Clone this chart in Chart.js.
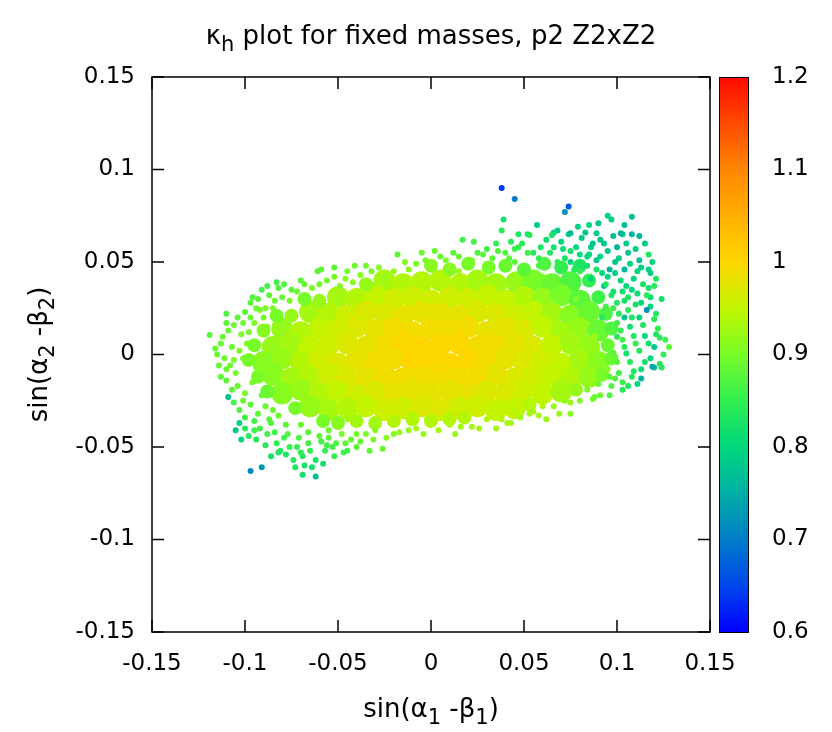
<!DOCTYPE html>
<html>
<head>
<meta charset="utf-8">
<title>kappa_h plot for fixed masses</title>
<script src="https://cdn.jsdelivr.net/npm/chart.js@4.4.1/dist/chart.umd.min.js"></script>
<style>
  html, body { margin: 0; padding: 0; background: #fff; }
  #wrap { width: 832px; height: 732px; }
</style>
</head>
<body>
<div id="wrap"><canvas id="kappaChart" width="832" height="732"></canvas></div>
<script>
// kappa_h scan for fixed masses, p2 Z2xZ2
// each point: [sin(a1 - b1), sin(a2 - b2), kappa_h]

const xTicks = [-0.15, -0.1, -0.05, 0, 0.05, 0.1, 0.15];
const yTicks = [-0.15, -0.1, -0.05, 0, 0.05, 0.1, 0.15];
const cbTicks = [0.6, 0.7, 0.8, 0.9, 1.0, 1.1, 1.2];

// dense middle of the cloud (upper rows)
const coreUpper = [
  [-.025,.040,.93],[-.015,.038,.94],[-.005,.039,.94],[.005,.040,.94],
  [.016,.038,.94],[.025,.040,.93],[.035,.038,.93],[.046,.039,.92],[.055,.040,.90],
  [.065,.038,.89],[.075,.039,.87],
  [-.050,.031,.93],[-.040,.030,.94],[-.030,.032,.95],
  [-.020,.030,.96],[-.010,.031,.96],[.000,.029,.96],[.010,.031,.96],[.020,.030,.96],
  [.030,.032,.95],[.040,.029,.95],[.050,.031,.94],[.060,.030,.92],[.070,.032,.90],
  [.080,.029,.88]
];

// dense middle of the cloud (central rows)
const coreMiddle = [
  [-.065,.023,.93],[-.055,.022,.94],[-.045,.021,.96],
  [-.035,.023,.97],[-.025,.022,.97],[-.015,.021,.98],[-.005,.023,.98],[.005,.022,.98],
  [.015,.021,.98],[.025,.023,.97],[.035,.022,.97],[.045,.021,.96],[.055,.023,.95],
  [.065,.022,.93],[.075,.021,.91],[.085,.023,.89],
  [-.080,.014,.92],[-.070,.012,.94],[-.060,.014,.95],[-.050,.013,.96],
  [-.040,.015,.97],[-.030,.013,.98],[-.020,.014,.99],[-.010,.012,.99],[.000,.014,.99],
  [.010,.013,.99],[.020,.015,.99],[.030,.012,.98],[.040,.014,.98],[.050,.013,.97],
  [.060,.015,.95],[.070,.012,.93],[.080,.014,.92],[.090,.013,.89],
  [-.085,.004,.92],[-.075,.006,.93],[-.065,.004,.95],[-.055,.005,.96],
  [-.045,.006,.97],[-.035,.004,.98],[-.025,.005,.99],[-.015,.006,1.0],[-.005,.004,1.0],
  [.005,.005,1.0],[.015,.006,1.0],[.025,.004,.99],[.035,.005,.99],[.045,.006,.98],
  [.055,.004,.97],[.065,.005,.95],[.075,.006,.93],[.085,.004,.92],
  [-.090,-.004,.91],[-.080,-.002,.92],[-.070,-.004,.94],[-.060,-.003,.96],
  [-.050,-.005,.97],[-.040,-.003,.98],[-.030,-.004,.99],[-.020,-.002,.99],[-.010,-.004,1.0],
  [.000,-.003,1.0],[.010,-.005,1.0],[.020,-.003,1.0],[.030,-.004,.99],[.040,-.002,.98],
  [.050,-.004,.97],[.060,-.003,.96],[.070,-.005,.95],[.080,-.003,.93],[.090,-.004,.91]
];

// dense middle of the cloud (lower rows)
const coreLower = [
  [-.085,-.011,.91],[-.075,-.013,.93],[-.065,-.012,.94],[-.055,-.011,.96],
  [-.045,-.013,.97],[-.035,-.012,.98],[-.025,-.011,.99],[-.015,-.013,.99],[-.005,-.012,.99],
  [.005,-.011,.99],[.015,-.013,.99],[.025,-.012,.99],[.035,-.011,.98],[.045,-.013,.97],
  [.055,-.012,.96],[.065,-.011,.95],[.075,-.013,.94],[.085,-.012,.92],
  [-.080,-.021,.91],[-.070,-.019,.92],[-.060,-.021,.94],[-.050,-.020,.95],
  [-.040,-.022,.96],[-.030,-.020,.97],[-.020,-.021,.98],[-.010,-.019,.98],[.000,-.021,.98],
  [.010,-.020,.98],[.020,-.022,.98],[.030,-.020,.97],[.040,-.021,.97],[.050,-.019,.96],
  [.060,-.021,.95],[.070,-.020,.93],
  [-.065,-.028,.92],[-.055,-.030,.93],[-.045,-.029,.94],[-.035,-.028,.95],
  [-.025,-.030,.96],[-.015,-.029,.96],[-.005,-.028,.97],[.005,-.030,.97],[.015,-.029,.96],
  [.025,-.028,.96],[.035,-.030,.95],[.045,-.029,.95]
];

// rim of the dense part (row ends, top and bottom rows)
const coreRim = [
  [.000,.048,.91],[.010,.046,.91],[.020,.049,.90],[.031,.047,.90],[.040,.048,.89],
  [.050,.046,.88],[.061,.049,.87],[.070,.047,.85],[.080,.048,.83],
  [-.035,.038,.92],[.085,.040,.85],[-.068,.030,.90],[-.060,.029,.92],[.090,.031,.86],
  [-.083,.021,.90],[-.075,.021,.92],[.094,.022,.87],[-.090,.013,.91],[.097,.014,.87],
  [-.095,.005,.90],[.095,.005,.89],[-.098,-.003,.90],[.097,-.002,.89],
  [-.093,-.012,.90],[.092,-.011,.90],[-.088,-.020,.89],[.078,-.019,.92],
  [-.073,-.029,.90],[.053,-.027,.94],
  [-.058,-.036,.90],[-.050,-.037,.91],[-.040,-.036,.93],[-.030,-.037,.93],[-.020,-.036,.94],
  [-.010,-.035,.94],[.000,-.036,.94],[.010,-.035,.94],[.018,-.034,.94]
];

// scattered points inside the cloud
const innerPoints = [
  [-.065,.012,.94],[-.050,-.008,.96],[-.038,.020,.96],[-.020,-.025,.97],[-.005,.030,.96],
  [.012,-.018,.98],[.028,.010,.99],[.040,-.010,.98],[.055,.020,.95],[.068,-.005,.95],
  [.078,.030,.90],[.088,.010,.92],[.060,.042,.90],[.045,.050,.88],[-.080,-.010,.92],
  [-.088,.015,.91],[-.072,-.030,.90],[-.045,-.035,.93],[-.030,.038,.93],[.015,.045,.92],
  [.035,.030,.95],[.020,-.030,.96],[.070,-.020,.93],[.095,-.008,.91],[.098,.025,.86],
  [.080,.045,.85],[-.060,.028,.92],[-.015,.008,.99],[.005,-.008,1.0],[-.040,-.020,.96],
  [.086,.041,.80],[.092,.020,.84],[.075,.050,.80]
];

// band of points just outside the dense part
const ringPoints = [
  [-.060,.038,.90],[-.052,.042,.90],[-.045,.045,.90],[-.038,.043,.91],[-.028,.047,.91],
  [-.020,.045,.92],[-.014,.050,.91],[-.005,.055,.89],[.002,.056,.89],[.008,.051,.90],
  [.015,.053,.89],[.022,.051,.90],[.028,.054,.88],[.036,.056,.87],[.042,.052,.88],
  [.052,.055,.86],[.058,.048,.87],[.068,.050,.85],[.077,.046,.84],[.084,.048,.82],
  [-.110,.017,.88],[-.114,-.006,.89],[-.107,-.019,.88],[-.101,-.025,.89],[-.096,-.015,.90],
  [-.103,.002,.90],[-.101,.017,.89],[-.092,.024,.90],[-.096,.031,.87],[-.089,-.028,.89],
  [-.087,-.035,.88],[-.082,-.033,.89],[-.110,.022,.87],[-.106,-.003,.90],
  [-.070,-.038,.89],[-.066,-.042,.88],[-.055,-.045,.88],[-.048,-.043,.90],[-.030,-.041,.91],
  [-.020,-.043,.91],[-.012,-.041,.92],[-.004,-.043,.92],[.004,-.041,.93],[.013,-.043,.92],
  [.026,-.040,.93],[.038,-.035,.94],[.046,-.031,.94],[.058,-.033,.93],[.066,-.028,.92],
  [.072,-.025,.92],[.084,-.019,.90],[.090,-.016,.89],
  [.100,-.004,.88],[.103,.008,.86],[.100,.017,.86],[.098,.001,.88],[.096,.012,.88],
  [.094,.026,.86],[.097,.032,.83],[.095,.042,.80],[.091,.053,.80],[.104,.029,.82],
  [.102,.013,.85],[.099,-.013,.87],[.108,-.012,.84],[.105,.037,.80]
];

// extra fringe points on the right, upper-left and lower-left
const fillPoints = [
  [.101,.052,.79],[.106,.055,.77],[.113,.047,.79],[.119,.050,.80],[.121,.041,.83],
  [.117,.036,.82],[.111,.033,.81],[.103,.034,.81],[.099,.044,.79],[.110,.027,.82],
  [.118,.026,.80],[.121,.022,.83],[.114,.016,.83],[.108,.020,.83],[.101,.022,.84],
  [.117,.006,.82],[.121,.011,.83],[.126,.008,.86],[.125,.000,.85],[.113,-.008,.81],
  [.106,-.017,.83],[.096,-.012,.88],[.093,.060,.78],[.098,.064,.77],[.105,.060,.78],
  [.112,.064,.76],[.086,.058,.79],[.090,.071,.78],[.104,.070,.77],[.118,.031,.81],
  [-.085,.025,.90],[-.080,.031,.89],[-.075,.035,.88],[-.070,.040,.88],[-.064,.036,.90],
  [-.090,.020,.90],[-.094,.025,.89],[-.083,.039,.86],[-.052,.047,.88],[-.049,.037,.91],
  [-.042,.039,.91],
  [-.100,-.040,.84],[-.094,-.046,.84],[-.089,-.049,.84],[-.084,-.042,.86],[-.078,-.054,.83],
  [-.072,-.050,.85],[-.068,-.060,.82],[-.064,-.061,.82],[-.056,-.049,.86],[-.043,-.046,.89],
  [-.086,-.055,.82],[-.102,-.046,.80]
];

// left fringe
const edgeLeft = [
  [-.119,.0105,.88],[-.116,.0033,.89],[-.115,.000,.89],[-.112,.0096,.89],[-.111,-.002,.89],
  [-.109,.013,.89],[-.106,.016,.89],[-.113,-.012,.88],[-.110,-.014,.88],[-.109,-.023,.77],
  [-.105,-.010,.90],[-.104,-.017,.89],[-.100,-.021,.90],[-.103,-.030,.87],[-.103,-.037,.80],
  [-.105,-.041,.78],[-.098,-.044,.84],[-.095,-.041,.86],[-.092,-.040,.86],[-.088,-.043,.86],
  [-.101,-.002,.90],[-.099,.006,.90],[-.097,.020,.89],[-.097,.028,.88],[-.095,.017,.90],
  [-.091,.035,.86],[-.087,.032,.88],[-.082,.036,.87],[-.079,.038,.87],[-.084,.029,.89],
  [-.094,-.007,.91],[-.102,.011,.90],[-.107,.004,.89],[-.097,-.027,.88],[-.093,-.032,.88],
  [-.108,-.006,.89],[-.100,.023,.88],[-.089,.025,.90],[-.083,-.048,.85],[-.081,-.052,.84],
  [-.082,-.053,.83],[-.077,-.043,.87],[-.076,-.050,.85],[-.097,-.063,.71],[-.091,-.061,.73],
  [-.086,-.037,.87],[-.079,-.045,.86],
  [-.113,.006,.89],[-.110,-.008,.89],[-.106,-.026,.86],[-.100,-.034,.86],[-.098,.012,.90],
  [-.104,.020,.88],[-.093,.030,.88],[-.088,.037,.86],[-.085,-.030,.89],[-.091,-.022,.89],
  [-.095,-.036,.86],[-.078,-.038,.88]
];

// lower fringe
const edgeBottom = [
  [-.073,-.061,.83],[-.070,-.053,.85],[-.069,-.065,.82],[-.069,-.055,.84],[-.062,-.066,.77],
  [-.062,-.057,.83],[-.065,-.052,.85],[-.059,-.047,.86],[-.057,-.052,.85],[-.053,-.050,.86],
  [-.051,-.048,.87],[-.047,-.053,.86],[-.045,-.052,.86],[-.046,-.048,.88],[-.060,-.044,.88],
  [-.040,-.043,.90],[-.035,-.043,.90],[-.031,-.046,.90],[-.026,-.051,.89],[-.017,-.042,.92],
  [-.011,-.035,.94],[-.002,-.035,.94],[.005,-.034,.95],[.016,-.039,.93],[.022,-.039,.93],
  [.030,-.035,.94],[.041,-.037,.93],[.043,-.037,.93],[.048,-.034,.93],[.053,-.032,.93],
  [.055,-.031,.93],[.060,-.028,.94],[.062,-.035,.92],[.069,-.032,.92],[.075,-.032,.91],
  [.075,-.026,.92],[.080,-.025,.91],[.087,-.024,.90],[.088,-.023,.89],[.091,-.022,.89],
  [.096,-.022,.87],[.097,-.017,.87],[.103,-.019,.84],[.103,-.015,.86],[-.024,-.045,.91],
  [-.008,-.040,.93],[.010,-.038,.94],[.035,-.040,.93],[-.038,-.047,.89],[-.055,-.041,.89],
  [-.071,-.045,.87],[-.066,-.048,.86],[-.074,-.057,.84],[-.058,-.059,.82],[-.052,-.055,.85],
  [-.040,-.050,.88],[-.033,-.052,.88]
];

// right fringe (greener, mixed with teal)
const edgeRight = [
  [.128,.004,.88],[.123,.009,.84],[.122,.014,.85],[.120,.019,.84],[.120,.004,.78],
  [.116,.024,.72],[.124,.030,.82],[.120,.037,.84],[.116,.032,.84],[.117,.046,.80],
  [.117,.054,.83],[.111,.045,.80],[.107,.049,.80],[.112,.051,.77],[.118,.044,.78],
  [.109,.041,.80],[.108,.065,.75],[.103,.065,.78],[.102,.0655,.76],[.108,.0745,.77],
  [.113,-.013,.76],[.120,-.007,.78],[.124,-.007,.84],[.123,-.005,.84],[.119,-.0066,.74],
  [.109,-.009,.83],[.105,.0006,.82],[.100,.0096,.84],[.107,.015,.82],[.104,.020,.78],
  [.113,.028,.80],[.110,.006,.85],[.115,.010,.80],[.112,.002,.84],[.114,.038,.82],
  [.106,.031,.83],[.110,.057,.79],[.115,.060,.78],[.106,.024,.84],[.118,-.002,.80],
  [.102,.040,.80],[.098,.034,.82],[.104,.046,.76],[.108,.035,.80],[.100,.028,.83],
  [.112,.020,.80],[.109,.010,.83],[.104,.004,.84],[.115,-.004,.82],[.107,-.004,.84],
  [.111,-.016,.80],[.101,-.010,.86]
];

// upper fringe
const edgeTop = [
  [.097,.073,.78],[.095,.075,.80],[.085,.070,.80],[.079,.069,.79],[.074,.065,.80],
  [.075,.0655,.76],[.066,.066,.80],[.057,.070,.79],[.052,.065,.82],[.047,.065,.83],
  [.038,.067,.84],[.039,.073,.82],[.035,.060,.85],[.023,.061,.86],[.017,.062,.86],
  [.012,.055,.88],[.005,.053,.89],[-.008,.049,.90],[-.018,.054,.88],[-.025,.042,.92],
  [-.032,.045,.90],[-.035,.048,.90],[-.041,.048,.89],[-.046,.041,.91],[-.056,.040,.90],
  [-.059,.046,.88],[-.061,.045,.88],[-.068,.038,.89],[-.072,.034,.89],[-.076,.029,.90],
  [.089,.0655,.79],[.100,.058,.76],[.096,.046,.76],[.093,.037,.78],[.089,.051,.78],
  [.078,.058,.80],[.070,.061,.80],[.084,.053,.80],[.065,.0646,.82],[.053,.0646,.84],
  [.049,.060,.84],[.043,.061,.84],[.059,.058,.83],[.030,.057,.86],[.025,.055,.87],
  [-.003,.051,.90],[-.012,.046,.91],[.062,.062,.81],[.091,.062,.78],[.081,.063,.79],
  [.071,.057,.81],
  [.045,.057,.86],[.055,.055,.84],[.066,.058,.82],[.075,.056,.82],[.085,.054,.80],
  [.099,.050,.78],[.095,.056,.78],[.087,.060,.78],[.080,.054,.81],[.072,.052,.83],
  [.064,.055,.83],[.058,.052,.85],[.092,.044,.80],[.047,.058,.85],[.040,.055,.87],
  [.033,.052,.88],[.068,.067,.79],[.083,.066,.78],[.089,.046,.82],[.094,.038,.83]
];

// isolated low-kappa points above the cloud
const outliers = [
  [.038,.090,.64],[.045,.084,.70],[.074,.080,.67],[.072,.077,.72]
];

// gnuplot-like rainbow palette for kappa_h
const palette = [
  [0.60, [0, 0, 255]],
  [0.65, [0, 70, 235]],
  [0.70, [0, 125, 200]],
  [0.75, [0, 175, 165]],
  [0.80, [0, 215, 125]],
  [0.85, [50, 238, 80]],
  [0.90, [120, 252, 40]],
  [0.95, [195, 245, 0]],
  [1.00, [255, 215, 0]],
  [1.05, [255, 175, 0]],
  [1.10, [255, 135, 0]],
  [1.15, [255, 75, 0]],
  [1.20, [255, 10, 0]]
];

function kappaColor(k) {
  if (k <= palette[0][0]) return `rgb(${palette[0][1].join(',')})`;
  for (let i = 1; i < palette.length; i++) {
    const [k1, c1] = palette[i];
    if (k <= k1) {
      const [k0, c0] = palette[i - 1];
      const t = (k - k0) / (k1 - k0);
      const c = c0.map((v, j) => Math.round(v + (c1[j] - v) * t));
      return `rgb(${c.join(',')})`;
    }
  }
  return `rgb(${palette[palette.length - 1][1].join(',')})`;
}

function pointSet(label, pts, radius, order) {
  return {
    label: label,
    data: pts,
    order: order,
    showLine: false,
    pointRadius: radius,
    pointHoverRadius: radius,
    pointBorderWidth: 0,
    pointBorderColor: 'rgba(0,0,0,0)',
    pointBackgroundColor: (c) => kappaColor(c.raw ? c.raw[2] : 1)
  };
}

const FONT = "'DejaVu Sans', sans-serif";
Chart.defaults.font.family = FONT;
Chart.defaults.font.size = 23;
Chart.defaults.color = '#000';

// text with subscripts: parts = [[text, isSub], ...]
function drawRich(ctx, parts, cx, baseline, size) {
  const subSize = Math.round(size * 0.8);
  let total = 0;
  parts.forEach(([t, sub]) => {
    ctx.font = `${sub ? subSize : size}px ${FONT}`;
    total += ctx.measureText(t).width;
  });
  let x = cx - total / 2;
  ctx.textAlign = 'left';
  ctx.textBaseline = 'alphabetic';
  parts.forEach(([t, sub]) => {
    ctx.font = `${sub ? subSize : size}px ${FONT}`;
    ctx.fillText(t, x, baseline + (sub ? 7 : 0));
    x += ctx.measureText(t).width;
  });
}

const framePlugin = {
  id: 'frame',
  afterDraw(chart) {
    const { ctx, chartArea: a, scales } = chart;
    const len = 12;
    ctx.save();
    ctx.strokeStyle = '#000';
    ctx.lineWidth = 1.5;
    ctx.strokeRect(a.left, a.top, a.right - a.left, a.bottom - a.top);
    ctx.beginPath();
    scales.x.ticks.forEach(t => {
      const px = scales.x.getPixelForValue(t.value);
      ctx.moveTo(px, a.bottom); ctx.lineTo(px, a.bottom - len);
      ctx.moveTo(px, a.top); ctx.lineTo(px, a.top + len);
    });
    scales.y.ticks.forEach(t => {
      const py = scales.y.getPixelForValue(t.value);
      ctx.moveTo(a.left, py); ctx.lineTo(a.left + len, py);
      ctx.moveTo(a.right, py); ctx.lineTo(a.right - len, py);
    });
    ctx.stroke();
    ctx.restore();
  }
};

const colorbarPlugin = {
  id: 'colorbar',
  afterDraw(chart) {
    const { ctx } = chart;
    const cb = chart.scales.cb;
    const x0 = cb.left + 9, w = 29;
    const top = cb.getPixelForValue(cbTicks[cbTicks.length - 1]);
    const bottom = cb.getPixelForValue(cbTicks[0]);
    const grad = ctx.createLinearGradient(0, bottom, 0, top);
    const k0 = cbTicks[0], k1 = cbTicks[cbTicks.length - 1];
    palette.forEach(([k]) => grad.addColorStop((k - k0) / (k1 - k0), kappaColor(k)));
    ctx.save();
    ctx.fillStyle = grad;
    ctx.fillRect(x0, top, w, bottom - top);
    ctx.strokeStyle = '#000';
    ctx.lineWidth = 1;
    ctx.strokeRect(x0 + 0.5, top + 0.5, w, bottom - top);
    ctx.restore();
  }
};

const labelPlugin = {
  id: 'labels',
  afterDraw(chart) {
    const { ctx, chartArea: a } = chart;
    const cx = (a.left + a.right) / 2;
    ctx.save();
    ctx.fillStyle = '#000';
    drawRich(ctx, [['\u03BA', false], ['h', true], [' plot for fixed masses, p2 Z2xZ2', false]], cx, 44, 26);
    drawRich(ctx, [['sin(\u03B1', false], ['1', true], [' -\u03B2', false], ['1', true], [')', false]], cx, 717, 26);
    ctx.translate(47, (a.top + a.bottom) / 2);
    ctx.rotate(-Math.PI / 2);
    drawRich(ctx, [['sin(\u03B1', false], ['2', true], [' -\u03B2', false], ['2', true], [')', false]], 0, 0, 26);
    ctx.restore();
  }
};

const tickLabel = (v) => Number(v.toFixed(2)).toString();

new Chart(document.getElementById('kappaChart'), {
  type: 'scatter',
  data: {
    datasets: [
      pointSet('outliers', outliers, 3, 0),
      pointSet('edge top', edgeTop, 3, 1),
      pointSet('edge right', edgeRight, 3, 1),
      pointSet('edge bottom', edgeBottom, 3, 1),
      pointSet('edge left', edgeLeft, 3, 1),
      pointSet('fill', fillPoints, 3, 1),
      pointSet('ring', ringPoints, 3, 1),
      pointSet('inner', innerPoints, 3, 1),
      pointSet('core rim', coreRim, 7, 2),
      pointSet('core lower', coreLower, 11, 3),
      pointSet('core middle', coreMiddle, 11, 3),
      pointSet('core upper', coreUpper, 11, 3)
    ]
  },
  options: {
    responsive: false,
    animation: false,
    events: [],
    layout: { padding: { top: 77, left: 0, right: 0, bottom: 0 } },
    plugins: {
      legend: { display: false },
      tooltip: { enabled: false },
      title: { display: false }
    },
    scales: {
      x: {
        type: 'linear',
        min: -0.15, max: 0.15,
        afterBuildTicks: (s) => { s.ticks = xTicks.map(v => ({ value: v })); },
        afterFit: (s) => { s.height = 100; },
        grid: { display: false, drawTicks: false },
        border: { display: false },
        ticks: { padding: 18, callback: tickLabel, maxRotation: 0 }
      },
      y: {
        type: 'linear',
        min: -0.15, max: 0.15,
        afterBuildTicks: (s) => { s.ticks = yTicks.map(v => ({ value: v })); },
        afterFit: (s) => { s.width = 152; },
        grid: { display: false, drawTicks: false },
        border: { display: false },
        ticks: { padding: 17, callback: tickLabel }
      },
      cb: {
        type: 'linear',
        position: 'right',
        min: 0.6, max: 1.2,
        afterBuildTicks: (s) => { s.ticks = cbTicks.map(v => ({ value: v })); },
        afterFit: (s) => { s.width = 122; },
        grid: { display: false, drawTicks: false },
        border: { display: false },
        ticks: { padding: 62, callback: tickLabel }
      }
    }
  },
  plugins: [framePlugin, colorbarPlugin, labelPlugin]
});
</script>
</body>
</html>
